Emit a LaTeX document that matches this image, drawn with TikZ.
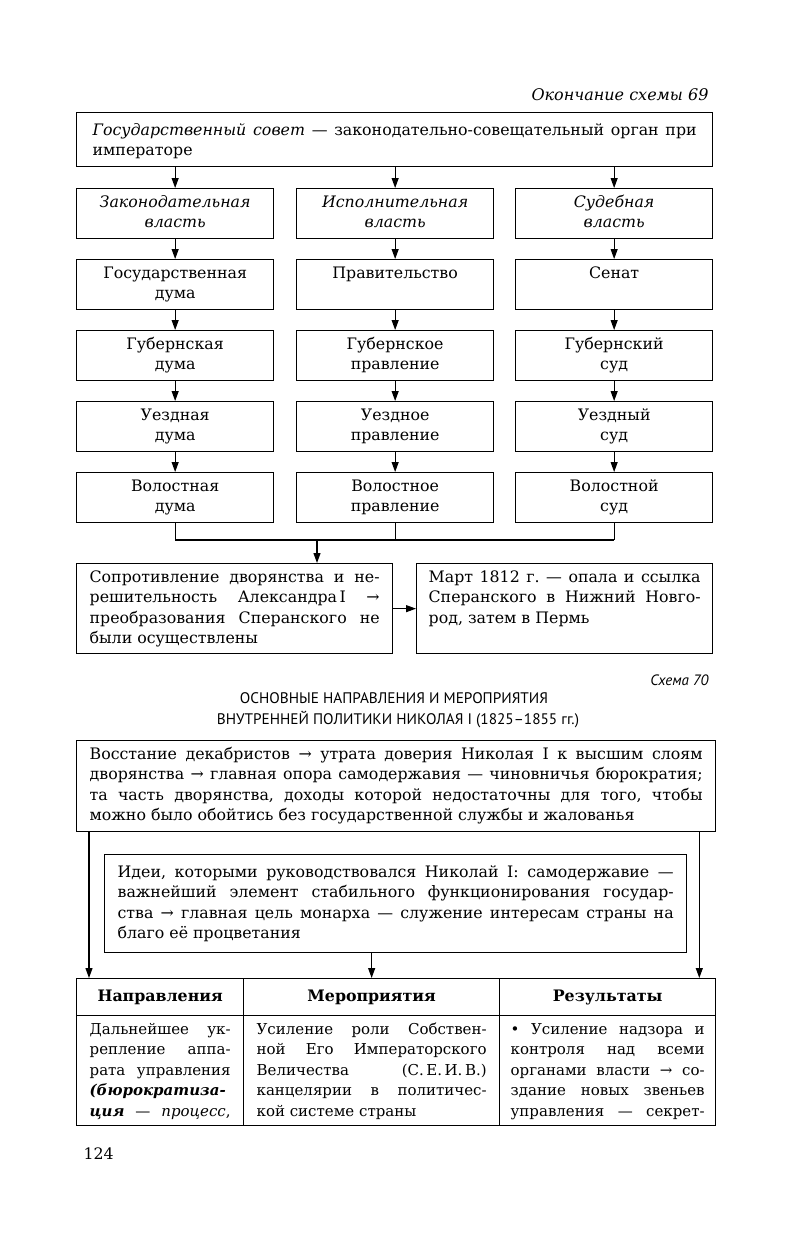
\documentclass[tikz,border=0pt]{standalone}
\usepackage{fontspec}
\setmainfont{DejaVu Serif}
\setsansfont{PT Sans}
\usetikzlibrary{arrows.meta}
\frenchspacing

\newcommand{\boxtext}[3]{\parbox[c][#2][t]{#1}{\strut#3}}

\begin{document}
\begin{tikzpicture}[x=1pt,y=-1pt,font=\fontsize{15.8}{20.5}\selectfont]

\def\colw{171pt}
\def\rowh{42pt}

\tikzset{frame/.style = {draw, line width=1.3pt, anchor=north west, inner xsep=13pt, inner ysep=4pt},
         pointer/.style = {-{Triangle[length=10pt,width=7pt]}, line width=1.1pt},
         link/.style = {line width=1.1pt}}

\useasboundingbox (0,0) rectangle (791,1245);

% end of scheme 69
\node[anchor=base east, font=\fontsize{16}{18}\selectfont\itshape] (S69) at (712,100) {Окончание схемы 69};
\node[frame, inner xsep=16pt, inner ysep=8pt] (B0) at (76,112) {\boxtext{604pt}{38pt}{\textit{Государственный совет} — законодательно-совещательный орган при\linebreak императоре}};

\node[frame] (L1) at (76,188) {\boxtext{\colw}{\rowh}{\centering\itshape Законодательная\\власть}};
\node[frame] (E1) at (296,188) {\boxtext{\colw}{\rowh}{\centering\itshape Исполнительная\\власть}};
\node[frame] (J1) at (515,188) {\boxtext{\colw}{\rowh}{\centering\itshape Судебная\\власть}};

\node[frame] (L2) at (76,259) {\boxtext{\colw}{\rowh}{\centering Государственная\\дума}};
\node[frame] (E2) at (296,259) {\boxtext{\colw}{\rowh}{\centering Правительство}};
\node[frame] (J2) at (515,259) {\boxtext{\colw}{\rowh}{\centering Сенат}};

\node[frame] (L3) at (76,330) {\boxtext{\colw}{\rowh}{\centering Губернская\\дума}};
\node[frame] (E3) at (296,330) {\boxtext{\colw}{\rowh}{\centering Губернское\\правление}};
\node[frame] (J3) at (515,330) {\boxtext{\colw}{\rowh}{\centering Губернский\\суд}};

\node[frame] (L4) at (76,401) {\boxtext{\colw}{\rowh}{\centering Уездная\\дума}};
\node[frame] (E4) at (296,401) {\boxtext{\colw}{\rowh}{\centering Уездное\\правление}};
\node[frame] (J4) at (515,401) {\boxtext{\colw}{\rowh}{\centering Уездный\\суд}};

\node[frame] (L5) at (76,472) {\boxtext{\colw}{\rowh}{\centering Волостная\\дума}};
\node[frame] (E5) at (296,472) {\boxtext{\colw}{\rowh}{\centering Волостное\\правление}};
\node[frame] (J5) at (515,472) {\boxtext{\colw}{\rowh}{\centering Волостной\\суд}};

\draw[pointer] (L1.north |- B0.south) -- (L1.north);
\draw[pointer] (E1.north |- B0.south) -- (E1.north);
\draw[pointer] (J1.north |- B0.south) -- (J1.north);
\draw[pointer] (L1) -- (L2);
\draw[pointer] (E1) -- (E2);
\draw[pointer] (J1) -- (J2);
\draw[pointer] (L2) -- (L3);
\draw[pointer] (E2) -- (E3);
\draw[pointer] (J2) -- (J3);
\draw[pointer] (L3) -- (L4);
\draw[pointer] (E3) -- (E4);
\draw[pointer] (J3) -- (J4);
\draw[pointer] (L4) -- (L5);
\draw[pointer] (E4) -- (E5);
\draw[pointer] (J4) -- (J5);

\node[frame] (A) at (76,563) {\boxtext{290pt}{82pt}{Сопротивление дворянства и не-\linebreak решительность Александра\,I →\linebreak преобразования Сперанского не\linebreak были осуществлены}};
\node[frame, inner xsep=12pt] (B) at (416,563) {\boxtext{272pt}{82pt}{Март 1812~г. — опала и ссылка\linebreak Сперанского в Нижний Новго-\linebreak род, затем в Пермь}};

\coordinate (join) at (317,540);
\draw[link] (L5.south) -- (L5.south |- join) -- (J5.south |- join);
\draw[link] (E5.south) -- (E5.south |- join);
\draw[link] (J5.south) -- (J5.south |- join);
\draw[pointer] (join) -- (join |- A.north);
\draw[pointer] (A.east) -- (B.west);

% scheme 70
\node[anchor=base east, font=\fontsize{15}{17}\selectfont\sffamily\itshape] (S70) at (712,685) {Схема 70};
\node[anchor=base, font=\fontsize{15.3}{18}\selectfont\sffamily] (T1) at (394,703) {ОСНОВНЫЕ НАПРАВЛЕНИЯ И МЕРОПРИЯТИЯ};
\node[anchor=base, font=\fontsize{15.3}{18}\selectfont\sffamily] (T2) at (398,724) {ВНУТРЕННЕЙ ПОЛИТИКИ НИКОЛАЯ I (1825–1855 гг.)};

\node[frame] (C) at (76,740) {\boxtext{613pt}{83pt}{Восстание декабристов → утрата доверия Николая~I к высшим слоям\linebreak дворянства → главная опора самодержавия — чиновничья бюрократия;\linebreak та часть дворянства, доходы которой недостаточны для того, чтобы\linebreak можно было обойтись без государственной службы и жалованья}};
\node[frame, minimum width=582pt, minimum height=98pt, text width=556pt, align=justify] (D) at (104,854) {Идеи, которыми руководствовался Николай~I: самодержавие —\linebreak важнейший элемент стабильного функционирования государ-\linebreak ства → главная цель монарха — служение интересам страны на\linebreak благо её процветания};

\node[frame, minimum width=167pt, minimum height=37pt] (H1) at (76,978) {\bfseries Направления};
\node[frame, minimum width=256pt, minimum height=37pt] (H2) at (243,978) {\bfseries Мероприятия};
\node[frame, minimum width=216pt, minimum height=37pt] (H3) at (499,978) {\bfseries Результаты};

\node[frame, font=\fontsize{15}{20.5}\selectfont] (R1) at (76,1015) {\boxtext{141pt}{102pt}{\parfillskip=0pt Дальнейшее ук-\linebreak репление аппа-\linebreak рата управления\linebreak \textbf{\textit{(бюрократиза-}}\linebreak \textbf{\textit{ция}} — \textit{процесс},}};
\node[frame, font=\fontsize{15}{20.5}\selectfont] (R2) at (243,1015) {\boxtext{230pt}{102pt}{Усиление роли Собствен-\linebreak ной Его Императорского\linebreak Величества (С.\,Е.\,И.\,В.)\linebreak канцелярии в политичес-\linebreak кой системе страны}};
\node[frame, inner xsep=11pt, font=\fontsize{15}{20.5}\selectfont] (R3) at (499,1015) {\boxtext{194pt}{102pt}{\parfillskip=0pt • Усиление надзора и\linebreak контроля над всеми\linebreak органами власти → со-\linebreak здание новых звеньев\linebreak управления — секрет-}};

\draw[pointer] ([xshift=13pt]C.south west) -- ([xshift=13pt]H1.north west);
\draw[pointer] ([xshift=-17pt]C.south east) -- ([xshift=-17pt]H3.north east);
\draw[pointer] (D.south -| H2.north) -- (H2.north);

\node[anchor=base west] (P124) at (80,1159) {124};

\end{tikzpicture}
\end{document}
